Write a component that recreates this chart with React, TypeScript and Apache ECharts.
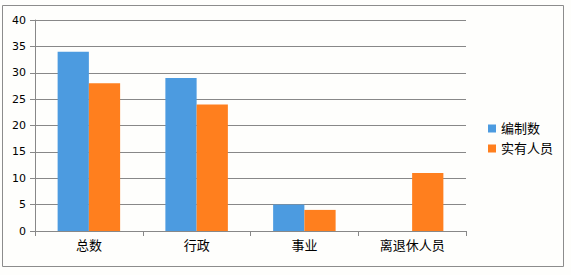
import React, { useEffect, useRef } from "react";
import * as echarts from "echarts";

const categories = ["总数", "行政", "事业", "离退休人员"];
const seriesNames = ["编制数", "实有人员"];
const planned = [34, 29, 5, null];
const actual = [28, 24, 4, 11];
const colors = ["#4C9BE0", "#FF7F1E"];

export default function App() {
  const ref = useRef<HTMLDivElement>(null);
  useEffect(() => {
    const chart = echarts.init(ref.current!, null, { renderer: "svg" });
    const font = "DejaVu Sans, Noto Sans CJK SC, sans-serif";
    chart.setOption({
      animation: false,
      backgroundColor: "#FEFEFC",
      textStyle: { fontFamily: font },
      graphic: [
        {
          type: "rect",
          shape: { x: 2.5, y: 5.5, width: 561, height: 261 },
          style: { fill: "none", stroke: "#8C8C8C", lineWidth: 1 },
          silent: true,
        },
      ],
      grid: { left: 35, top: 20, right: 105, bottom: 44, containLabel: false },
      legend: {
        orient: "vertical",
        left: 483,
        top: 117,
        itemWidth: 8,
        itemHeight: 8,
        itemGap: 7,
        icon: "rect",
        textStyle: { fontSize: 13, color: "#000", fontFamily: font },
        data: seriesNames,
      },
      xAxis: {
        type: "category",
        data: categories,
        axisLine: { lineStyle: { color: "#888", width: 1 } },
        axisTick: { show: true, length: 5, lineStyle: { color: "#888" } },
        axisLabel: { color: "#000", fontSize: 13, margin: 8, fontFamily: font },
      },
      yAxis: {
        type: "value",
        min: 0,
        max: 40,
        interval: 5,
        axisLine: { show: true, lineStyle: { color: "#888", width: 1 } },
        axisTick: { show: true, length: 5, lineStyle: { color: "#888" } },
        axisLabel: { color: "#000", fontSize: 11, margin: 9, fontFamily: font },
        splitLine: { show: true, lineStyle: { color: "#888", width: 1 } },
      },
      series: [
        {
          name: seriesNames[0],
          type: "bar",
          data: planned,
          itemStyle: { color: colors[0] },
          barGap: "0%",
          barCategoryGap: "42%",
        },
        {
          name: seriesNames[1],
          type: "bar",
          data: actual,
          itemStyle: { color: colors[1] },
          barGap: "0%",
          barCategoryGap: "42%",
        },
      ],
    });
    return () => chart.dispose();
  }, []);
  return (
    <div
      ref={ref}
      style={{ position: "fixed", left: 0, top: 0, width: 571, height: 275 }}
    />
  );
}
